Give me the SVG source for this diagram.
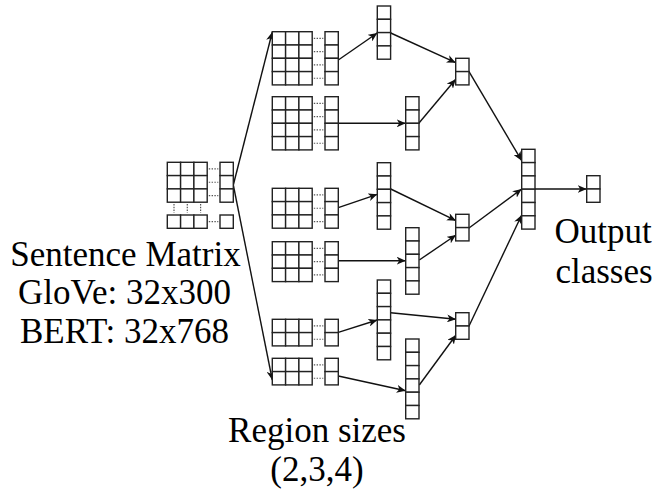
<svg xmlns="http://www.w3.org/2000/svg" xmlns:xlink="http://www.w3.org/1999/xlink" width="667" height="494" viewBox="0 0 667 494">
<style>
.cell{fill:#fff;stroke:#222;stroke-width:1.4}
.dot{stroke:#555;stroke-width:1.2;stroke-dasharray:1.4 1.4;fill:none}
.con{stroke:#111;stroke-width:1.4;fill:none}
.arr{marker-end:url(#ah)}
.lbl{font-family:"Liberation Serif","Times New Roman",serif;font-size:35px;fill:#000;text-anchor:middle}
</style>
<defs>
<rect id="c" width="13.3" height="13.3" class="cell"/>
<g id="row"><use href="#c"/><use href="#c" x="13.3"/><use href="#c" x="26.6"/><path d="M41.5 6.65H51" class="dot"/><use href="#c" x="52.7"/></g>
<g id="col2"><use href="#c"/><use href="#c" y="13.3"/></g>
<g id="col4"><use href="#c"/><use href="#c" y="13.3"/><use href="#c" y="26.6"/><use href="#c" y="39.9"/></g>
<g id="col5"><use href="#col4"/><use href="#c" y="53.2"/></g>
<g id="col6"><use href="#col4"/><use href="#c" y="53.2"/><use href="#c" y="66.5"/></g>
<marker id="ah" markerWidth="10" markerHeight="8" refX="9" refY="4" orient="auto" markerUnits="userSpaceOnUse"><path d="M0 0L9 4L0 8L2.5 4Z" fill="#111"/></marker>
</defs>
<rect width="667" height="494" fill="#fff"/>

<g id="connectors">
<path class="con arr" d="M233.3 185L272.3 32"/>
<path class="con arr" d="M233.3 185L272.3 380"/>
<path class="con arr" d="M338.3 60L377.3 33"/>
<path class="con arr" d="M338.3 123.3L405.7 123.3"/>
<path class="con arr" d="M338.3 207.7L377.3 194.3"/>
<path class="con arr" d="M338.3 260.7L405.7 260.7"/>
<path class="con arr" d="M338.3 332.3L377.3 320"/>
<path class="con arr" d="M338.3 376L405.7 390.7"/>
<path class="con arr" d="M390.7 33L455.7 62.7"/>
<path class="con arr" d="M419 123L455.7 79.3"/>
<path class="con arr" d="M390.7 189L456 220.7"/>
<path class="con arr" d="M419.3 260L456 235"/>
<path class="con arr" d="M390.7 312.7L456 319.3"/>
<path class="con arr" d="M419.3 385L456 335"/>
<path class="con arr" d="M469 71.7L521.7 160.7"/>
<path class="con arr" d="M469 228L521.7 189"/>
<path class="con arr" d="M469 326L521.7 215"/>
<path class="con arr" d="M534.3 189L586.7 189"/>
</g>

<g id="sentence-matrix">
<use href="#row" x="167.3" y="162.3"/>
<use href="#row" x="167.3" y="175.6"/>
<use href="#row" x="167.3" y="188.9"/>
<path class="dot" d="M174 204V213M187.3 204V213M200.6 204V213"/>
<use href="#row" x="167.3" y="215"/>
</g>

<g id="region-1">
<use href="#row" x="272.3" y="31.7"/><use href="#row" x="272.3" y="45"/><use href="#row" x="272.3" y="58.3"/><use href="#row" x="272.3" y="71.6"/>
</g>
<g id="region-2">
<use href="#row" x="272.3" y="96.7"/><use href="#row" x="272.3" y="110"/><use href="#row" x="272.3" y="123.3"/><use href="#row" x="272.3" y="136.6"/>
</g>
<g id="region-3">
<use href="#row" x="272.3" y="188.3"/><use href="#row" x="272.3" y="201.6"/><use href="#row" x="272.3" y="214.9"/>
</g>
<g id="region-4">
<use href="#row" x="272.3" y="241.7"/><use href="#row" x="272.3" y="255"/><use href="#row" x="272.3" y="268.3"/>
</g>
<g id="region-5">
<use href="#row" x="272.3" y="319.3"/><use href="#row" x="272.3" y="332.6"/>
</g>
<g id="region-6">
<use href="#row" x="272.3" y="358.3"/><use href="#row" x="272.3" y="371.6"/>
</g>

<g id="fmap-1"><use href="#col4" x="377.3" y="6"/></g>
<g id="fmap-2"><use href="#col4" x="405.7" y="96.7"/></g>
<g id="fmap-3"><use href="#col5" x="377.3" y="162.7"/></g>
<g id="fmap-4"><use href="#col5" x="405.7" y="227.7"/></g>
<g id="fmap-5"><use href="#col6" x="377.3" y="280"/></g>
<g id="fmap-6"><use href="#col6" x="405.7" y="339"/></g>

<g id="pool-1"><use href="#col2" x="455.7" y="58.3"/></g>
<g id="pool-2"><use href="#col2" x="455.7" y="214.3"/></g>
<g id="pool-3"><use href="#col2" x="455.7" y="312.7"/></g>

<g id="concat"><use href="#col6" x="521.7" y="149.3"/></g>
<g id="output"><use href="#col2" x="586.7" y="175.7"/></g>

<g id="labels">
<text class="lbl" x="125.5" y="265.5">Sentence Matrix</text>
<text class="lbl" x="124.5" y="304.3">GloVe: 32x300</text>
<text class="lbl" x="124.5" y="343">BERT: 32x768</text>
<text class="lbl" x="603" y="242.5">Output</text>
<text class="lbl" x="604" y="282.5">classes</text>
<text class="lbl" x="317" y="442">Region sizes</text>
<text class="lbl" x="317" y="480.5">(2,3,4)</text>
</g>
</svg>
